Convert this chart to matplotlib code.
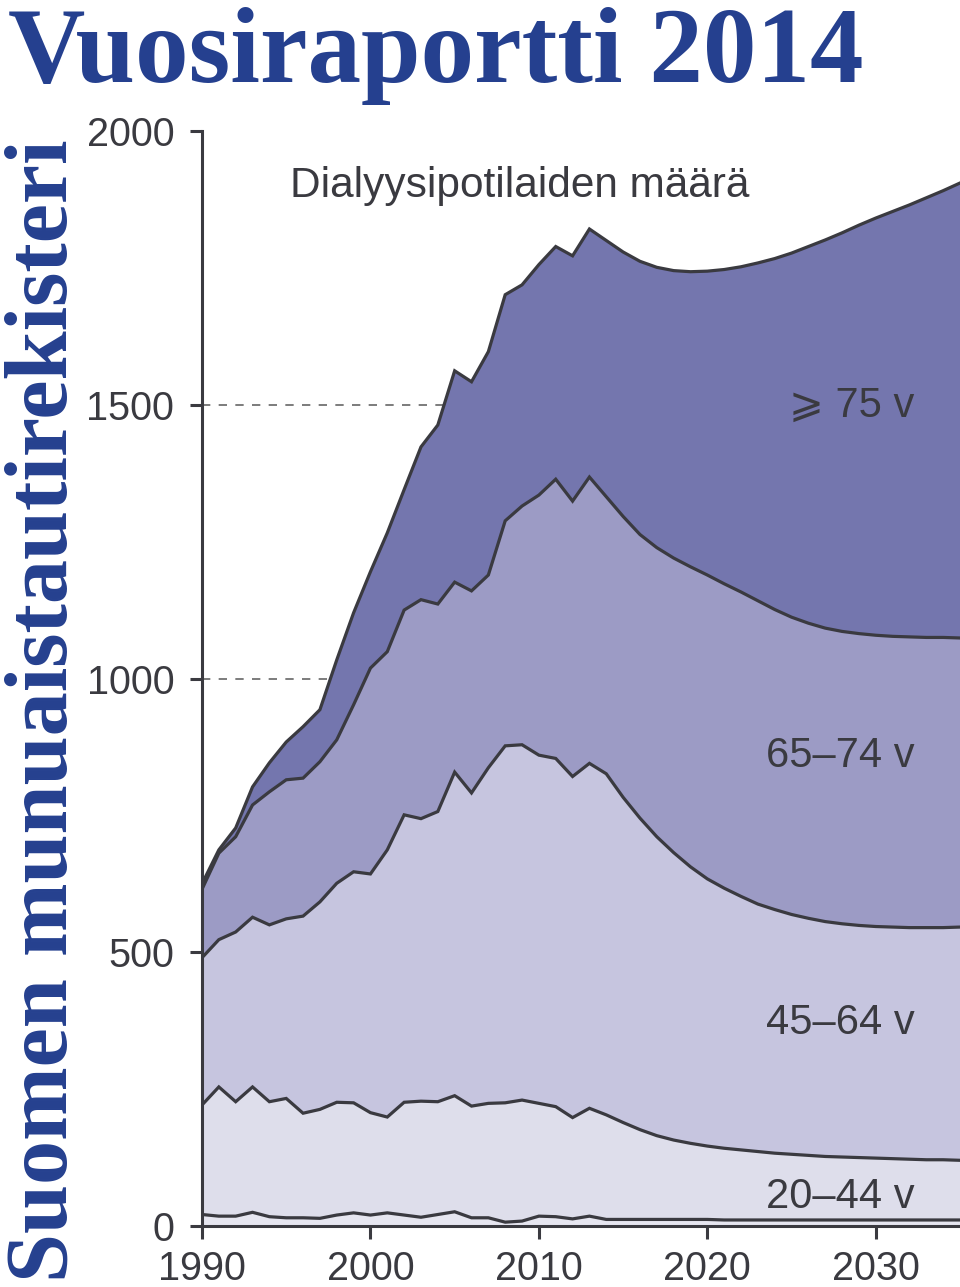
import numpy as np
import matplotlib
matplotlib.use('Agg')
import matplotlib.pyplot as plt

# Years: registry data 1990-2013, projection 2014-2035.
years = np.arange(1990, 2036)

# Cumulative boundaries of the stacked areas (patients).
total = [625, 687, 727, 802, 846, 884, 912, 943, 1034, 1120,
         1195, 1266, 1345, 1423, 1463, 1562, 1542, 1597, 1701, 1719,
         1756, 1789, 1772, 1821, 1800, 1779, 1762, 1751, 1745, 1743,
         1744, 1747, 1752, 1759, 1767, 1777, 1789, 1801, 1814, 1828,
         1841, 1853, 1865, 1878, 1891, 1905]
upto_74 = [615, 681, 711, 769, 793, 815, 818, 848, 888, 952,
           1019, 1049, 1125, 1144, 1136, 1176, 1160, 1189, 1288, 1315,
           1335, 1364, 1324, 1368, 1332, 1296, 1263, 1239, 1220, 1204,
           1189, 1173, 1158, 1142, 1126, 1112, 1101, 1092, 1086, 1082,
           1079, 1077, 1076, 1075, 1075, 1074]
upto_64 = [490, 523, 537, 564, 550, 561, 566, 592, 626, 647,
           643, 687, 751, 744, 757, 829, 791, 837, 877, 879,
           860, 854, 821, 845, 826, 783, 745, 711, 682, 656,
           634, 617, 602, 588, 578, 569, 562, 556, 552, 549,
           547, 546, 545, 545, 545, 546]
upto_44 = [221, 254, 227, 254, 227, 233, 206, 213, 226, 225,
           207, 199, 226, 228, 227, 238, 219, 224, 225, 230,
           224, 218, 198, 215, 203, 189, 176, 165, 157, 151,
           146, 142, 139, 136, 133, 131, 129, 127, 126, 125,
           124, 123, 122, 121, 121, 120]
upto_19 = [21, 18, 18, 25, 17, 15, 15, 14, 20, 24,
           20, 24, 20, 16, 21, 26, 15, 15, 7, 9,
           18, 17, 13, 18, 12, 12, 12, 12, 12, 12,
           12, 11, 11, 11, 11, 11, 11, 11, 11, 11,
           11, 11, 11, 11, 11, 11]

labels = ['\u2a7e 75 v', '65\u201374 v', '45\u201364 v', '20\u201344 v']
label_pos = [(2032.3, 1478), (2032.3, 838), (2032.3, 350), (2032.3, 33)]

colors = ['#e6e6f0', '#dedeeb', '#c6c5df', '#9c9bc5', '#7476ae']
ink = '#3a3a40'
blue = '#25408f'

fig = plt.figure(figsize=(9.6, 12.87), dpi=100)
ax = fig.add_axes([202/960, 1 - 1226/1287, 1 - 202/960, (1226 - 131)/1287])

bounds = [np.zeros(len(years)), upto_19, upto_44, upto_64, upto_74, total]
for i in range(5):
	ax.fill_between(years, bounds[i], bounds[i+1], color=colors[i], lw=0, zorder=1)
for b in bounds[1:]:
	ax.plot(years, b, color=ink, lw=2.3, zorder=2, solid_joinstyle='miter')

ax.hlines([500, 1000, 1500], 1990, 2035, colors='#666666', lw=1.2,
          linestyles=(0, (5, 5)), zorder=0)

ax.set_xlim(1990, 2035)
ax.set_ylim(0, 2000)
ax.set_xticks([1990, 2000, 2010, 2020, 2030])
ax.set_yticks([0, 500, 1000, 1500, 2000])
for s in ['top', 'right']:
	ax.spines[s].set_visible(False)
for s in ['left', 'bottom']:
	ax.spines[s].set_color(ink)
	ax.spines[s].set_linewidth(2.2)
	ax.spines[s].set_zorder(3)
ax.tick_params(direction='out', length=9, width=2.2, color=ink,
               labelsize=28.5, labelcolor=ink)
ax.tick_params(axis='y', pad=11)
ax.tick_params(axis='x', pad=8)
for t in ax.get_xticklabels() + ax.get_yticklabels():
	t.set_family(['Liberation Sans', 'DejaVu Sans'])

for lab, (x, y) in zip(labels, label_pos):
	ax.text(x, y, lab, ha='right', va='baseline', fontsize=30, color=ink,
	        family=['Liberation Sans', 'DejaVu Sans'], zorder=4)

ax.text(1995.2, 1879, 'Dialyysipotilaiden määrä', ha='left', va='baseline',
        fontsize=30.5, color=ink, family=['Liberation Sans', 'DejaVu Sans'])

fig.text(8/960, 1 - 82/1287, 'Vuosiraportti 2014', ha='left', va='baseline',
         fontsize=77, fontweight='bold', color=blue, family='Liberation Serif')
fig.text(67/960, 1 - 1282/1287, 'Suomen munuaistautirekisteri', rotation=90,
         rotation_mode='anchor', ha='left', va='baseline', fontsize=63.5,
         fontweight='bold', color=blue, family='Liberation Serif')

fig.savefig('out.png', dpi=100)
